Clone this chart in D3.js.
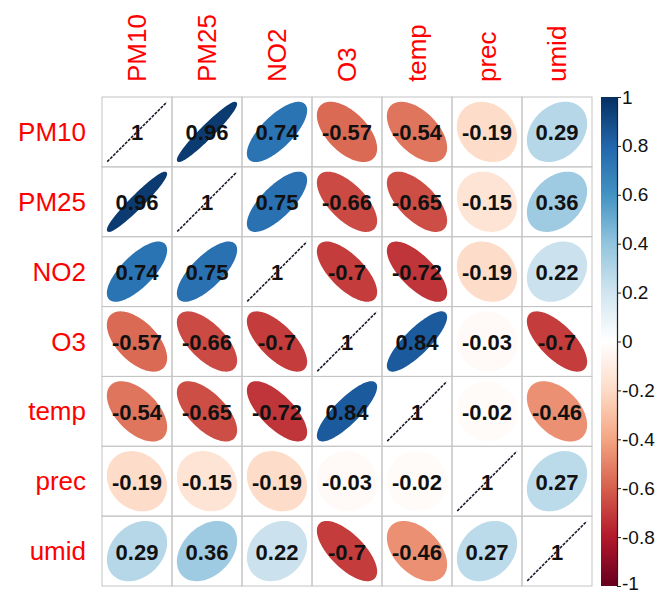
<!DOCTYPE html>
<html>
<head>
<meta charset="utf-8">
<script src="https://cdn.jsdelivr.net/npm/d3@7"></script>
<style>
  html, body { margin: 0; padding: 0; background: #fff; }
  svg { display: block; font-family: "Liberation Sans", Arial, sans-serif; }
</style>
</head>
<body>
<svg id="chart" width="656" height="595"></svg>
<script>
// ---- data ----
const variables = ["PM10", "PM25", "NO2", "O3", "temp", "prec", "umid"];
const rowPM10 = [1, 0.96, 0.74, -0.57, -0.54, -0.19, 0.29];
const rowPM25 = [0.96, 1, 0.75, -0.66, -0.65, -0.15, 0.36];
const rowNO2  = [0.74, 0.75, 1, -0.7, -0.72, -0.19, 0.22];
const rowO3   = [-0.57, -0.66, -0.7, 1, 0.84, -0.03, -0.7];
const rowTemp = [-0.54, -0.65, -0.72, 0.84, 1, -0.02, -0.46];
const rowPrec = [-0.19, -0.15, -0.19, -0.03, -0.02, 1, 0.27];
const rowUmid = [0.29, 0.36, 0.22, -0.7, -0.46, 0.27, 1];
const colorbarTicks = [-1, -0.8, -0.6, -0.4, -0.2, 0, 0.2, 0.4, 0.6, 0.8, 1];
const paletteColors = ["#67001F", "#B2182B", "#D6604D", "#F4A582", "#FDDBC7", "#FFFFFF",
                       "#D1E5F0", "#92C5DE", "#4393C3", "#2166AC", "#053061"];

const rows = [rowPM10, rowPM25, rowNO2, rowO3, rowTemp, rowPrec, rowUmid];

(function () {
// ---- layout ----
const svg = d3.select("#chart");
const gLeft = 102, gTop = 97, gRight = 592, gBottom = 586;

const x = d3.scaleBand().domain(variables).range([gLeft, gRight]);
const y = d3.scaleBand().domain(variables).range([gTop, gBottom]);
const color = d3.scaleLinear()
  .domain(d3.range(paletteColors.length).map(i => -1 + 2 * i / (paletteColors.length - 1)))
  .range(paletteColors)
  .interpolate(d3.interpolateRgb);

const cells = [];
rows.forEach((r, i) => r.forEach((v, j) => cells.push({row: variables[i], col: variables[j], v})));

// grid
const gGrid = svg.append("g");
cells.forEach(c => {
  gGrid.append("rect")
    .attr("x", x(c.col)).attr("y", y(c.row))
    .attr("width", x.bandwidth()).attr("height", y.bandwidth())
    .attr("fill", "none").attr("stroke", "#c4c4c4").attr("stroke-width", 1);
});

// ellipses
function ellipsePath(rho, cx, cy, size) {
  const a = Math.acos(Math.max(-1, Math.min(1, rho)));
  const n = 99, s = 0.83 * size / 2;
  const pts = d3.range(n).map(k => {
    const t = 2 * Math.PI * k / (n - 1);
    return [cx + s * Math.cos(t + a / 2), cy - s * Math.cos(t - a / 2)];
  });
  return d3.line()(pts) + "Z";
}

const gEll = svg.append("g");
cells.forEach(c => {
  const cx = x(c.col) + x.bandwidth() / 2, cy = y(c.row) + y.bandwidth() / 2;
  if (c.v >= 0.999) {
    const s = 0.85 * x.bandwidth() / 2;
    gEll.append("line")
      .attr("x1", cx - s).attr("y1", cy + s).attr("x2", cx + s).attr("y2", cy - s)
      .attr("stroke", "#1a1a2a").attr("stroke-width", 1.6).attr("stroke-dasharray", "3,1.2");
  } else {
    gEll.append("path")
      .attr("d", ellipsePath(c.v, cx, cy, x.bandwidth()))
      .attr("fill", color(c.v))
      .attr("stroke", color(c.v)).attr("stroke-width", 2.2).attr("stroke-linejoin", "round");
  }
  gEll.append("text")
    .attr("x", cx).attr("y", cy + 1)
    .attr("text-anchor", "middle").attr("dominant-baseline", "central")
    .attr("font-size", 22).attr("font-weight", "bold").attr("fill", "#111")
    .text(c.v);
});

// row labels
svg.append("g").selectAll("text").data(variables).join("text")
  .attr("x", 86).attr("y", d => y(d) + y.bandwidth() / 2)
  .attr("text-anchor", "end").attr("dominant-baseline", "central")
  .attr("font-size", 26).attr("fill", "#FF0000")
  .text(d => d);

// column labels
svg.append("g").selectAll("text").data(variables).join("text")
  .attr("transform", d => `translate(${x(d) + x.bandwidth() / 2},82) rotate(-90)`)
  .attr("text-anchor", "start").attr("dominant-baseline", "central")
  .attr("font-size", 26).attr("fill", "#FF0000")
  .text(d => d);

// colorbar
const cbX = 601, cbW = 16;
const cbY = d3.scaleLinear().domain([-1, 1]).range([gBottom, gTop]);
const defs = svg.append("defs");
const grad = defs.append("linearGradient").attr("id", "cbgrad")
  .attr("x1", 0).attr("y1", 1).attr("x2", 0).attr("y2", 0);
paletteColors.forEach((c, i) => {
  grad.append("stop").attr("offset", i / (paletteColors.length - 1)).attr("stop-color", c);
});
svg.append("rect")
  .attr("x", cbX).attr("y", gTop).attr("width", cbW).attr("height", gBottom - gTop)
  .attr("fill", "url(#cbgrad)");

const axis = d3.axisRight(cbY).tickValues(colorbarTicks).tickSize(4).tickPadding(1)
  .tickFormat(d => String(d));
const gAxis = svg.append("g").attr("transform", `translate(${cbX + cbW},0)`).call(axis);
gAxis.select(".domain").attr("stroke", "#222").attr("stroke-width", 1.2);
gAxis.selectAll(".tick line").attr("stroke", "#222");
gAxis.selectAll(".tick text").attr("font-size", 19).attr("fill", "#111")
  .attr("font-family", "Liberation Sans, Arial, sans-serif")
  .attr("dy", d => d === -1 ? "0.2em" : "0.32em");
})();
</script>
</body>
</html>
